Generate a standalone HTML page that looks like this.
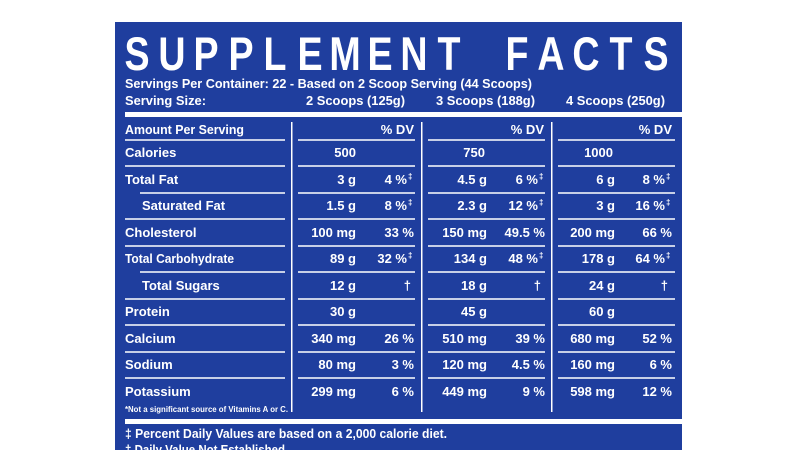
<!DOCTYPE html>
<html><head><meta charset="utf-8"><style>
html,body{margin:0;padding:0;background:#fff;width:795px;height:450px;overflow:hidden}
svg{display:block}
text{font-family:"Liberation Sans Narrow","Liberation Sans",sans-serif;font-weight:bold;fill:#fff}
</style></head><body>
<svg width="795" height="450" viewBox="0 0 795 450">
<rect x="115" y="22" width="567" height="440" fill="#1f3e9e"/>
<g font-size="47" font-family="Liberation Sans" text-anchor="middle">
<text transform="translate(137,70) scale(0.8,1)">S</text>
<text transform="translate(172,70) scale(0.8,1)">U</text>
<text transform="translate(206,70) scale(0.8,1)">P</text>
<text transform="translate(241,70) scale(0.8,1)">P</text>
<text transform="translate(275,70) scale(0.8,1)">L</text>
<text transform="translate(310,70) scale(0.8,1)">E</text>
<text transform="translate(345,70) scale(0.8,1)">M</text>
<text transform="translate(380,70) scale(0.8,1)">E</text>
<text transform="translate(414,70) scale(0.8,1)">N</text>
<text transform="translate(449,70) scale(0.8,1)">T</text>
<text transform="translate(517,70) scale(0.8,1)">F</text>
<text transform="translate(551,70) scale(0.8,1)">A</text>
<text transform="translate(586,70) scale(0.8,1)">C</text>
<text transform="translate(621,70) scale(0.8,1)">T</text>
<text transform="translate(656,70) scale(0.8,1)">S</text>
</g>
<g font-size="13">
<text x="125" y="88" textLength="407" lengthAdjust="spacingAndGlyphs">Servings Per Container: 22 - Based on 2 Scoop Serving (44 Scoops)</text>
<text x="125" y="105" textLength="81" lengthAdjust="spacingAndGlyphs">Serving Size:</text>
<text x="306" y="105" textLength="99" lengthAdjust="spacingAndGlyphs">2 Scoops (125g)</text>
<text x="436" y="105" textLength="99" lengthAdjust="spacingAndGlyphs">3 Scoops (188g)</text>
<text x="566" y="105" textLength="99" lengthAdjust="spacingAndGlyphs">4 Scoops (250g)</text>
</g>
<rect x="125" y="112" width="557" height="5" fill="#fff"/>
<rect x="125" y="419" width="557" height="5" fill="#fff"/>
<g fill="#fff">
<rect x="291" y="122" width="1.5" height="290"/>
<rect x="421" y="122" width="1.5" height="290"/>
<rect x="551" y="122" width="1.5" height="290"/>
</g>
<g stroke="#fff" stroke-width="1.6">
<line x1="125" y1="140" x2="285" y2="140"/>
<line x1="125" y1="166" x2="285" y2="166"/>
<line x1="140" y1="193" x2="285" y2="193"/>
<line x1="125" y1="219" x2="285" y2="219"/>
<line x1="125" y1="246" x2="285" y2="246"/>
<line x1="140" y1="272" x2="285" y2="272"/>
<line x1="125" y1="299" x2="285" y2="299"/>
<line x1="125" y1="325" x2="285" y2="325"/>
<line x1="125" y1="352" x2="285" y2="352"/>
<line x1="125" y1="378" x2="285" y2="378"/>
</g>
<g stroke="#fff" stroke-width="1.6" id="cl">
<line x1="298" y1="140" x2="415" y2="140"/>
<line x1="298" y1="166" x2="415" y2="166"/>
<line x1="298" y1="193" x2="415" y2="193"/>
<line x1="298" y1="219" x2="415" y2="219"/>
<line x1="298" y1="246" x2="415" y2="246"/>
<line x1="298" y1="272" x2="415" y2="272"/>
<line x1="298" y1="299" x2="415" y2="299"/>
<line x1="298" y1="325" x2="415" y2="325"/>
<line x1="298" y1="352" x2="415" y2="352"/>
<line x1="298" y1="378" x2="415" y2="378"/>
</g>
<use href="#cl" x="130"/>
<use href="#cl" x="260"/>
<g font-size="13">
<text x="125" y="134" textLength="119" lengthAdjust="spacingAndGlyphs">Amount Per Serving</text>
<text x="125" y="157">Calories</text>
<text x="125" y="184">Total Fat</text>
<text x="142" y="210">Saturated Fat</text>
<text x="125" y="237">Cholesterol</text>
<text x="125" y="263" textLength="109" lengthAdjust="spacingAndGlyphs">Total Carbohydrate</text>
<text x="142" y="290">Total Sugars</text>
<text x="125" y="316">Protein</text>
<text x="125" y="343">Calcium</text>
<text x="125" y="369">Sodium</text>
<text x="125" y="396">Potassium</text>
</g>
<g font-size="13" text-anchor="end">
<text x="414" y="134">% DV</text><text x="544" y="134">% DV</text><text x="672" y="134">% DV</text>
<text x="356" y="157">500</text><text x="485" y="157">750</text><text x="613" y="157">1000</text>
<text x="356" y="184">3 g</text><text x="407" y="184">4 %</text><text x="487" y="184">4.5 g</text><text x="538" y="184">6 %</text><text x="615" y="184">6 g</text><text x="665" y="184">8 %</text>
<text x="356" y="210">1.5 g</text><text x="407" y="210">8 %</text><text x="487" y="210">2.3 g</text><text x="538" y="210">12 %</text><text x="615" y="210">3 g</text><text x="665" y="210">16 %</text>
<text x="356" y="237">100 mg</text><text x="414" y="237">33 %</text><text x="487" y="237">150 mg</text><text x="545" y="237">49.5 %</text><text x="615" y="237">200 mg</text><text x="672" y="237">66 %</text>
<text x="356" y="263">89 g</text><text x="407" y="263">32 %</text><text x="487" y="263">134 g</text><text x="538" y="263">48 %</text><text x="615" y="263">178 g</text><text x="665" y="263">64 %</text>
<text x="356" y="290">12 g</text><text x="411" y="290">†</text><text x="487" y="290">18 g</text><text x="541" y="290">†</text><text x="615" y="290">24 g</text><text x="668" y="290">†</text>
<text x="356" y="316">30 g</text><text x="487" y="316">45 g</text><text x="615" y="316">60 g</text>
<text x="356" y="343">340 mg</text><text x="414" y="343">26 %</text><text x="487" y="343">510 mg</text><text x="545" y="343">39 %</text><text x="615" y="343">680 mg</text><text x="672" y="343">52 %</text>
<text x="356" y="369">80 mg</text><text x="414" y="369">3 %</text><text x="487" y="369">120 mg</text><text x="545" y="369">4.5 %</text><text x="615" y="369">160 mg</text><text x="672" y="369">6 %</text>
<text x="356" y="396">299 mg</text><text x="414" y="396">6 %</text><text x="487" y="396">449 mg</text><text x="545" y="396">9 %</text><text x="615" y="396">598 mg</text><text x="672" y="396">12 %</text>
</g>
<g font-size="8">
<text x="408" y="179">‡</text><text x="539" y="179">‡</text><text x="666" y="179">‡</text>
<text x="408" y="205">‡</text><text x="539" y="205">‡</text><text x="666" y="205">‡</text>
<text x="408" y="258">‡</text><text x="539" y="258">‡</text><text x="666" y="258">‡</text>
</g>
<text x="125" y="412" font-size="8.5" textLength="163" lengthAdjust="spacingAndGlyphs">*Not a significant source of Vitamins A or C.</text>
<text x="125" y="438" font-size="13" font-family="Liberation Sans" textLength="322" lengthAdjust="spacingAndGlyphs">‡ Percent Daily Values are based on a 2,000 calorie diet.</text>
<text x="125" y="454" font-size="13" font-family="Liberation Sans" textLength="160" lengthAdjust="spacingAndGlyphs">† Daily Value Not Established</text>
</svg>
</body></html>
